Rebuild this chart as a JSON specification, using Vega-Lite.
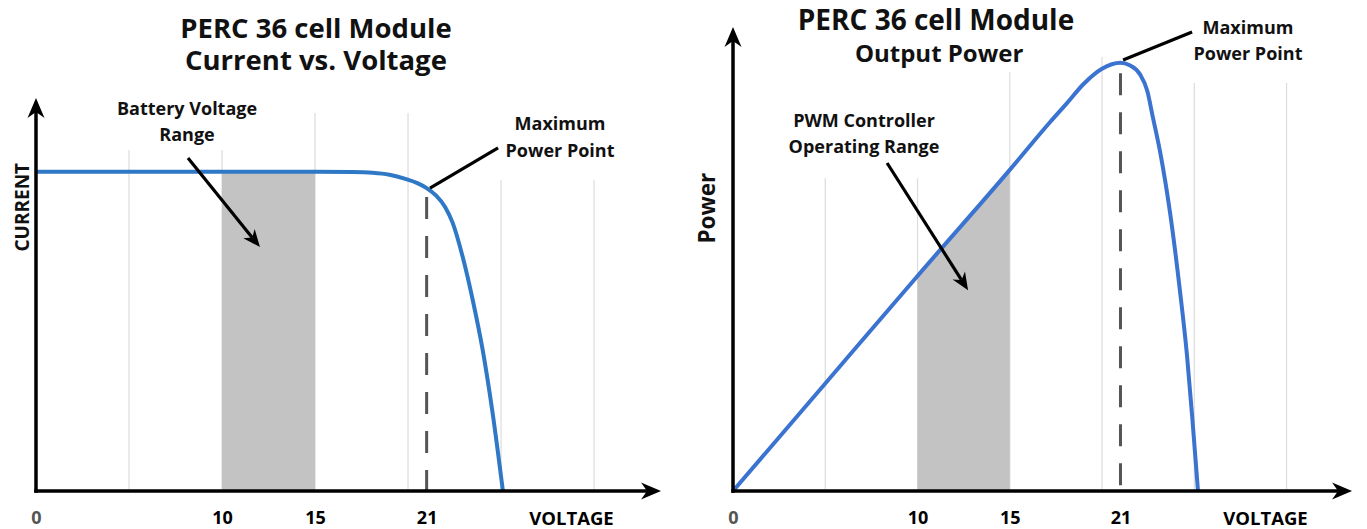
{
  "$schema": "https://vega.github.io/schema/vega-lite/v6.json",
  "padding": {"left": 0, "top": 0, "right": 0, "bottom": 3},
  "autosize": {"type": "pad"},
  "background": "white",
  "spacing": 10,
  "bounds": "flush",
  "config": {"view": {"stroke": null}, "font": "Open Sans"},
  "datasets": {
    "iv": [
      {"v": 0, "i": 65.0}, {"v": 5, "i": 65.0}, {"v": 10, "i": 65.0}, {"v": 15, "i": 65.0},
      {"v": 17, "i": 64.95}, {"v": 18.1, "i": 64.8}, {"v": 19.0, "i": 64.4}, {"v": 19.9, "i": 63.5},
      {"v": 20.5, "i": 62.7}, {"v": 21.0, "i": 61.7}, {"v": 21.5, "i": 60.2}, {"v": 22.0, "i": 57.8},
      {"v": 22.4, "i": 54.6}, {"v": 22.95, "i": 47.5}, {"v": 23.5, "i": 38.5}, {"v": 24.0, "i": 29.0},
      {"v": 24.55, "i": 15.8}, {"v": 25.1, "i": 0}
    ],
    "pv": [
      {"v": 0, "p": 0}, {"v": 5, "p": 21.9}, {"v": 10, "p": 43.8}, {"v": 15, "p": 65.4},
      {"v": 17.2, "p": 75.2}, {"v": 18.1, "p": 79.0}, {"v": 19.0, "p": 82.9}, {"v": 20.0, "p": 86.0},
      {"v": 21.0, "p": 87.2}, {"v": 21.5, "p": 86.7}, {"v": 22.05, "p": 84.9}, {"v": 22.45, "p": 81.5},
      {"v": 22.75, "p": 76.2}, {"v": 23.15, "p": 69.0}, {"v": 23.7, "p": 56.3}, {"v": 24.2, "p": 41.5},
      {"v": 24.6, "p": 27.8}, {"v": 24.9, "p": 14.5}, {"v": 25.2, "p": 0}
    ]
  },
  "hconcat": [
    {
      "width": 680,
      "height": 491,
      "layer": [
        {
          "data": {"values": [{"v": 5, "top": 69.45}, {"v": 10, "top": 69.45}, {"v": 15, "top": 77.0}, {"v": 20, "top": 77.0}, {"v": 25, "top": 63.3}, {"v": 30, "top": 63.3}]},
          "mark": {"type": "rule", "color": "#dcdcdc", "strokeWidth": 1.2},
          "encoding": {
            "x": {"field": "v", "type": "quantitative", "scale": {"domain": [-1.935, 34.62], "nice": false, "zero": false},
              "axis": {"values": [0, 10, 15, 21], "domain": false, "ticks": false, "tickSize": 0, "grid": false,
                "labelFont": "Open Sans", "labelFontSize": 18, "labelFontWeight": "bold",
                "labelColor": {"condition": {"test": "datum.value === 0", "value": "#555555"}, "value": "#000000"},
                "labelBaseline": "middle", "labelPadding": 27, "labelFlush": false, "labelOverlap": false, "labelBound": false,
                "title": "VOLTAGE", "titleX": 571, "titleY": 27, "titleAlign": "center", "titleBaseline": "middle",
                "titleFont": "Open Sans", "titleFontSize": 18.5, "titleFontWeight": "bold", "titleColor": "#000000"}},
            "y": {"field": "top", "type": "quantitative", "scale": {"domain": [0, 100], "nice": false, "zero": false}, "axis": null},
            "y2": {"datum": 0}
          }
        },
        {
          "data": {"name": "iv"},
          "transform": [{"filter": "datum.v >= 10 && datum.v <= 15"}],
          "mark": {"type": "area", "color": "#c3c3c3", "opacity": 1, "interpolate": "monotone"},
          "encoding": {
            "x": {"field": "v", "type": "quantitative", "scale": {"domain": [-1.935, 34.62], "nice": false, "zero": false}},
            "y": {"field": "i", "type": "quantitative", "scale": {"domain": [0, 100], "nice": false, "zero": false}, "axis": null},
            "y2": {"datum": 0}
          }
        },
        {
          "data": {"values": [{"v": 21, "top": 59.9}]},
          "mark": {"type": "rule", "color": "#555555", "strokeWidth": 3, "strokeDash": [22, 17]},
          "encoding": {
            "x": {"field": "v", "type": "quantitative", "scale": {"domain": [-1.935, 34.62], "nice": false, "zero": false}},
            "y": {"field": "top", "type": "quantitative", "scale": {"domain": [0, 100], "nice": false, "zero": false}, "axis": null},
            "y2": {"datum": 0}
          }
        },
        {
          "data": {"name": "iv"},
          "mark": {"type": "line", "color": "#2f78c6", "strokeWidth": 4, "interpolate": "monotone"},
          "encoding": {
            "x": {"field": "v", "type": "quantitative", "scale": {"domain": [-1.935, 34.62], "nice": false, "zero": false}},
            "y": {"field": "i", "type": "quantitative", "scale": {"domain": [0, 100], "nice": false, "zero": false}, "axis": null}
          }
        },
        {
          "data": {"values": [{"x": 0, "y": 0, "x2": 0, "y2": 77.15}, {"x": 0, "y": 0, "x2": 32.85, "y2": 0}]},
          "mark": {"type": "rule", "color": "#000000", "strokeWidth": 3.5, "strokeCap": "square"},
          "encoding": {
            "x": {"field": "x", "type": "quantitative", "scale": {"domain": [-1.935, 34.62], "nice": false, "zero": false}},
            "y": {"field": "y", "type": "quantitative", "scale": {"domain": [0, 100], "nice": false, "zero": false}, "axis": null},
            "x2": {"field": "x2"},
            "y2": {"field": "y2"}
          }
        },
        {
          "data": {"values": [{"x": 21.18, "y": 61.7, "x2": 24.84, "y2": 69.86}, {"x": 8.17, "y": 67.8, "x2": 11.63, "y2": 51.6}]},
          "mark": {"type": "rule", "color": "#000000", "strokeWidth": 3.2},
          "encoding": {
            "x": {"field": "x", "type": "quantitative", "scale": {"domain": [-1.935, 34.62], "nice": false, "zero": false}},
            "y": {"field": "y", "type": "quantitative", "scale": {"domain": [0, 100], "nice": false, "zero": false}, "axis": null},
            "x2": {"field": "x2"},
            "y2": {"field": "y2"}
          }
        },
        {
          "data": {"values": [{"x": 33.6, "y": 0}]},
          "mark": {"type": "point", "shape": "M0,0L-2,-0.85L-1.4,0L-2,0.85Z", "filled": true, "color": "#000000", "opacity": 1, "size": 400, "angle": 0, "strokeWidth": 0},
          "encoding": {
            "x": {"field": "x", "type": "quantitative", "scale": {"domain": [-1.935, 34.62], "nice": false, "zero": false}},
            "y": {"field": "y", "type": "quantitative", "scale": {"domain": [0, 100], "nice": false, "zero": false}, "axis": null}
          }
        },
        {
          "data": {"values": [{"x": 0, "y": 80.04}]},
          "mark": {"type": "point", "shape": "M0,0L-2,-0.85L-1.4,0L-2,0.85Z", "filled": true, "color": "#000000", "opacity": 1, "size": 400, "angle": 270, "strokeWidth": 0},
          "encoding": {
            "x": {"field": "x", "type": "quantitative", "scale": {"domain": [-1.935, 34.62], "nice": false, "zero": false}},
            "y": {"field": "y", "type": "quantitative", "scale": {"domain": [0, 100], "nice": false, "zero": false}, "axis": null}
          }
        },
        {
          "data": {"values": [{"x": 12.04, "y": 49.7}]},
          "mark": {"type": "point", "shape": "M0,0L-2,-0.85L-1.4,0L-2,0.85Z", "filled": true, "color": "#000000", "opacity": 1, "size": 300, "angle": 50.6, "strokeWidth": 0},
          "encoding": {
            "x": {"field": "x", "type": "quantitative", "scale": {"domain": [-1.935, 34.62], "nice": false, "zero": false}},
            "y": {"field": "y", "type": "quantitative", "scale": {"domain": [0, 100], "nice": false, "zero": false}, "axis": null}
          }
        },
        {
          "data": {"values": [{"x": 15.05, "y": 93.9, "t": ["PERC 36 cell Module", "Current vs. Voltage"]}]},
          "mark": {"type": "text", "font": "Open Sans", "fontSize": 27.5, "fontWeight": "bold", "color": "#111111", "align": "center", "baseline": "middle", "lineHeight": 32},
          "encoding": {
            "x": {"field": "x", "type": "quantitative", "scale": {"domain": [-1.935, 34.62], "nice": false, "zero": false}},
            "y": {"field": "y", "type": "quantitative", "scale": {"domain": [0, 100], "nice": false, "zero": false}, "axis": null},
            "text": {"field": "t"}
          }
        },
        {
          "data": {"values": [{"x": 8.12, "y": 77.6, "t": ["Battery Voltage", "Range"]}, {"x": 28.17, "y": 74.5, "t": ["Maximum", "Power Point"]}]},
          "mark": {"type": "text", "font": "Open Sans", "fontSize": 18, "fontWeight": "bold", "color": "#111111", "align": "center", "baseline": "middle", "lineHeight": 26.5},
          "encoding": {
            "x": {"field": "x", "type": "quantitative", "scale": {"domain": [-1.935, 34.62], "nice": false, "zero": false}},
            "y": {"field": "y", "type": "quantitative", "scale": {"domain": [0, 100], "nice": false, "zero": false}, "axis": null},
            "text": {"field": "t"}
          }
        },
        {
          "data": {"values": [{"x": -0.72, "y": 57.8, "t": "CURRENT"}]},
          "mark": {"type": "text", "font": "Open Sans", "fontSize": 19, "fontWeight": "bold", "color": "#111111", "align": "center", "baseline": "middle", "angle": 270},
          "encoding": {
            "x": {"field": "x", "type": "quantitative", "scale": {"domain": [-1.935, 34.62], "nice": false, "zero": false}},
            "y": {"field": "y", "type": "quantitative", "scale": {"domain": [0, 100], "nice": false, "zero": false}, "axis": null},
            "text": {"field": "t"}
          }
        }
      ]
    },
    {
      "width": 677,
      "height": 491,
      "layer": [
        {
          "data": {"values": [{"v": 5, "top": 63.7}, {"v": 10, "top": 63.7}, {"v": 15, "top": 85.3}, {"v": 20, "top": 88.4}, {"v": 25, "top": 83.1}, {"v": 30, "top": 83.1}]},
          "mark": {"type": "rule", "color": "#dcdcdc", "strokeWidth": 1.2},
          "encoding": {
            "x": {"field": "v", "type": "quantitative", "scale": {"domain": [-2.331, 34.36], "nice": false, "zero": false},
              "axis": {"values": [0, 10, 15, 21], "domain": false, "ticks": false, "tickSize": 0, "grid": false,
                "labelFont": "Open Sans", "labelFontSize": 18, "labelFontWeight": "bold",
                "labelColor": {"condition": {"test": "datum.value === 0", "value": "#555555"}, "value": "#000000"},
                "labelBaseline": "middle", "labelPadding": 27, "labelFlush": false, "labelOverlap": false, "labelBound": false,
                "title": "VOLTAGE", "titleX": 575, "titleY": 27, "titleAlign": "center", "titleBaseline": "middle",
                "titleFont": "Open Sans", "titleFontSize": 18.5, "titleFontWeight": "bold", "titleColor": "#000000"}},
            "y": {"field": "top", "type": "quantitative", "scale": {"domain": [0, 100], "nice": false, "zero": false}, "axis": null},
            "y2": {"datum": 0}
          }
        },
        {
          "data": {"name": "pv"},
          "transform": [{"filter": "datum.v >= 10 && datum.v <= 15"}],
          "mark": {"type": "area", "color": "#c3c3c3", "opacity": 1, "interpolate": "monotone"},
          "encoding": {
            "x": {"field": "v", "type": "quantitative", "scale": {"domain": [-2.331, 34.36], "nice": false, "zero": false}},
            "y": {"field": "p", "type": "quantitative", "scale": {"domain": [0, 100], "nice": false, "zero": false}, "axis": null},
            "y2": {"datum": 0}
          }
        },
        {
          "data": {"values": [{"v": 21, "top": 85.1}]},
          "mark": {"type": "rule", "color": "#555555", "strokeWidth": 3, "strokeDash": [22, 17]},
          "encoding": {
            "x": {"field": "v", "type": "quantitative", "scale": {"domain": [-2.331, 34.36], "nice": false, "zero": false}},
            "y": {"field": "top", "type": "quantitative", "scale": {"domain": [0, 100], "nice": false, "zero": false}, "axis": null},
            "y2": {"datum": 0}
          }
        },
        {
          "data": {"name": "pv"},
          "mark": {"type": "line", "color": "#3b73d1", "strokeWidth": 4, "interpolate": "monotone"},
          "encoding": {
            "x": {"field": "v", "type": "quantitative", "scale": {"domain": [-2.331, 34.36], "nice": false, "zero": false}},
            "y": {"field": "p", "type": "quantitative", "scale": {"domain": [0, 100], "nice": false, "zero": false}, "axis": null}
          }
        },
        {
          "data": {"values": [{"x": 0, "y": 0, "x2": 0, "y2": 91.6}, {"x": 0, "y": 0, "x2": 32.8, "y2": 0}]},
          "mark": {"type": "rule", "color": "#000000", "strokeWidth": 3.5, "strokeCap": "square"},
          "encoding": {
            "x": {"field": "x", "type": "quantitative", "scale": {"domain": [-2.331, 34.36], "nice": false, "zero": false}},
            "y": {"field": "y", "type": "quantitative", "scale": {"domain": [0, 100], "nice": false, "zero": false}, "axis": null},
            "x2": {"field": "x2"},
            "y2": {"field": "y2"}
          }
        },
        {
          "data": {"values": [{"x": 21.14, "y": 87.8, "x2": 24.88, "y2": 93.5}, {"x": 8.35, "y": 66.8, "x2": 12.38, "y2": 43.0}]},
          "mark": {"type": "rule", "color": "#000000", "strokeWidth": 3.2},
          "encoding": {
            "x": {"field": "x", "type": "quantitative", "scale": {"domain": [-2.331, 34.36], "nice": false, "zero": false}},
            "y": {"field": "y", "type": "quantitative", "scale": {"domain": [0, 100], "nice": false, "zero": false}, "axis": null},
            "x2": {"field": "x2"},
            "y2": {"field": "y2"}
          }
        },
        {
          "data": {"values": [{"x": 33.55, "y": 0}]},
          "mark": {"type": "point", "shape": "M0,0L-2,-0.85L-1.4,0L-2,0.85Z", "filled": true, "color": "#000000", "opacity": 1, "size": 400, "angle": 0, "strokeWidth": 0},
          "encoding": {
            "x": {"field": "x", "type": "quantitative", "scale": {"domain": [-2.331, 34.36], "nice": false, "zero": false}},
            "y": {"field": "y", "type": "quantitative", "scale": {"domain": [0, 100], "nice": false, "zero": false}, "axis": null}
          }
        },
        {
          "data": {"values": [{"x": 0, "y": 94.5}]},
          "mark": {"type": "point", "shape": "M0,0L-2,-0.85L-1.4,0L-2,0.85Z", "filled": true, "color": "#000000", "opacity": 1, "size": 400, "angle": 270, "strokeWidth": 0},
          "encoding": {
            "x": {"field": "x", "type": "quantitative", "scale": {"domain": [-2.331, 34.36], "nice": false, "zero": false}},
            "y": {"field": "y", "type": "quantitative", "scale": {"domain": [0, 100], "nice": false, "zero": false}, "axis": null}
          }
        },
        {
          "data": {"values": [{"x": 12.74, "y": 40.9}]},
          "mark": {"type": "point", "shape": "M0,0L-2,-0.85L-1.4,0L-2,0.85Z", "filled": true, "color": "#000000", "opacity": 1, "size": 300, "angle": 57.5, "strokeWidth": 0},
          "encoding": {
            "x": {"field": "x", "type": "quantitative", "scale": {"domain": [-2.331, 34.36], "nice": false, "zero": false}},
            "y": {"field": "y", "type": "quantitative", "scale": {"domain": [0, 100], "nice": false, "zero": false}, "axis": null}
          }
        },
        {
          "data": {"values": [{"x": 11.0, "y": 95.6, "t": "PERC 36 cell Module"}]},
          "mark": {"type": "text", "font": "Open Sans", "fontSize": 28, "fontWeight": "bold", "color": "#111111", "align": "center", "baseline": "middle"},
          "encoding": {
            "x": {"field": "x", "type": "quantitative", "scale": {"domain": [-2.331, 34.36], "nice": false, "zero": false}},
            "y": {"field": "y", "type": "quantitative", "scale": {"domain": [0, 100], "nice": false, "zero": false}, "axis": null},
            "text": {"field": "t"}
          }
        },
        {
          "data": {"values": [{"x": 11.17, "y": 88.8, "t": "Output Power"}]},
          "mark": {"type": "text", "font": "Open Sans", "fontSize": 24, "fontWeight": "bold", "color": "#111111", "align": "center", "baseline": "middle"},
          "encoding": {
            "x": {"field": "x", "type": "quantitative", "scale": {"domain": [-2.331, 34.36], "nice": false, "zero": false}},
            "y": {"field": "y", "type": "quantitative", "scale": {"domain": [0, 100], "nice": false, "zero": false}, "axis": null},
            "text": {"field": "t"}
          }
        },
        {
          "data": {"values": [{"x": 7.10, "y": 75.15, "t": ["PWM Controller", "Operating Range"]}, {"x": 27.91, "y": 94.1, "t": ["Maximum", "Power Point"]}]},
          "mark": {"type": "text", "font": "Open Sans", "fontSize": 18, "fontWeight": "bold", "color": "#111111", "align": "center", "baseline": "middle", "lineHeight": 26},
          "encoding": {
            "x": {"field": "x", "type": "quantitative", "scale": {"domain": [-2.331, 34.36], "nice": false, "zero": false}},
            "y": {"field": "y", "type": "quantitative", "scale": {"domain": [0, 100], "nice": false, "zero": false}, "axis": null},
            "text": {"field": "t"}
          }
        },
        {
          "data": {"values": [{"x": -1.355, "y": 57.6, "t": "Power"}]},
          "mark": {"type": "text", "font": "Open Sans", "fontSize": 22.5, "fontWeight": "bold", "color": "#111111", "align": "center", "baseline": "middle", "angle": 270},
          "encoding": {
            "x": {"field": "x", "type": "quantitative", "scale": {"domain": [-2.331, 34.36], "nice": false, "zero": false}},
            "y": {"field": "y", "type": "quantitative", "scale": {"domain": [0, 100], "nice": false, "zero": false}, "axis": null},
            "text": {"field": "t"}
          }
        }
      ]
    }
  ]
}
